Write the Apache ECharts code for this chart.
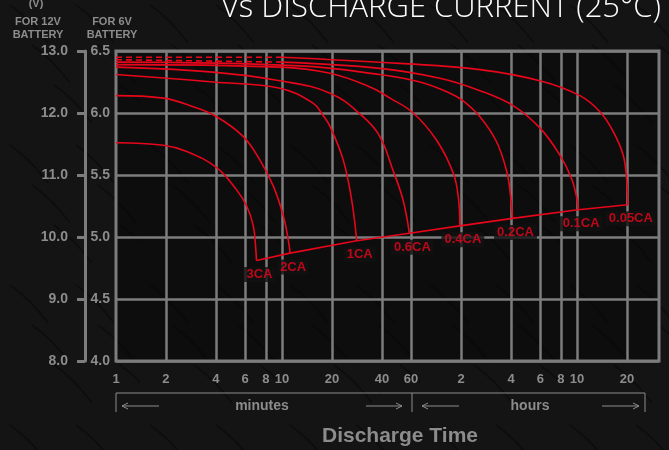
<!DOCTYPE html>
<html>
<head>
<meta charset="utf-8">
<script src="https://cdn.jsdelivr.net/npm/echarts@6/dist/echarts.min.js"></script>
<style>
html,body{margin:0;padding:0;background:#151515}
#main{width:669px;height:450px}
</style>
</head>
<body>
<div id="main"></div>
<script>
// x轴刻度（分钟），60以后按小时显示
var xTicks = [1, 2, 4, 6, 8, 10, 20, 40, 60, 120, 240, 360, 480, 600, 1200]
var xTickText = ['1', '2', '4', '6', '8', '10', '20', '40', '60', '2', '4', '6', '8', '10', '20']

// 每条放电曲线：时间(分钟) / 电压(6V电池)
var t3CA = [1, 1.93, 2.67, 4.04, 5.33, 6.13, 6.72, 6.94, 7.02]
var v3CA = [5.76, 5.74, 5.69, 5.56, 5.38, 5.25, 5.09, 4.92, 4.81]

var t2CA = [1, 1.93, 2.92, 4.04, 5.85, 7.37, 8.87, 10.2, 10.9, 11.2]
var v2CA = [6.14, 6.12, 6.05, 5.97, 5.81, 5.62, 5.41, 5.17, 4.98, 4.87]

var t1CA = [1, 2.02, 3.86, 9.72, 15.4, 17.7, 19.5, 23.4, 26.3, 28.2]
var v1CA = [6.31, 6.28, 6.25, 6.20, 6.08, 5.98, 5.89, 5.62, 5.30, 4.97]

var t06CA = [1, 3.84, 9.72, 19.5, 30.8, 38.9, 46.6, 53.6, 58.6]
var v06CA = [6.37, 6.33, 6.26, 6.16, 5.97, 5.81, 5.54, 5.30, 5.03]

var t04CA = [1, 9.72, 19.5, 33.9, 44.8, 61.8, 85.5, 108, 116, 118]
var v04CA = [6.39, 6.37, 6.32, 6.21, 6.12, 6.00, 5.78, 5.51, 5.30, 5.09]

var t02CA = [1, 12.8, 38.9, 67.8, 103, 123, 156, 196, 226, 238, 245]
var v02CA = [6.41, 6.38, 6.31, 6.25, 6.16, 6.10, 5.97, 5.77, 5.53, 5.34, 5.15]

var t01CA = [1, 10, 38.9, 89.5, 156, 247, 358, 473, 556, 601, 609]
var v01CA = [6.43, 6.41, 6.36, 6.28, 6.18, 6.06, 5.88, 5.66, 5.47, 5.30, 5.22]

var t005CA = [1, 10, 51.4, 156, 358, 624, 824, 991, 1138, 1193, 1214]
var v005CA = [6.45, 6.45, 6.40, 6.35, 6.26, 6.14, 6.01, 5.85, 5.66, 5.47, 5.26]

var curveNames = ['3CA', '2CA', '1CA', '0.6CA', '0.4CA', '0.2CA', '0.1CA', '0.05CA']
var curveTimes = [t3CA, t2CA, t1CA, t06CA, t04CA, t02CA, t01CA, t005CA]
var curveVolts = [v3CA, v2CA, v1CA, v06CA, v04CA, v02CA, v01CA, v005CA]

// 这两条在10分钟以前画虚线
var dashedCurves = ['0.1CA', '0.05CA']
var dashedUpTo = 10

var red = '#e8061b'
var gridGray = '#7d7d7d'
var textGray = '#8c8c8c'

function pairs(t, v) {
	return t.map(function (x, i) { return [x, v[i]] })
}

// 背景的斜纹理，淡一点
function makeTexture() {
	var c = document.createElement('canvas')
	c.width = 140
	c.height = 140
	var ctx = c.getContext('2d')
	ctx.fillStyle = '#141414'
	ctx.fillRect(0, 0, 140, 140)
	ctx.strokeStyle = 'rgba(0,0,0,0.3)'
	ctx.lineWidth = 2
	for (var i = 0; i < 6; i++) {
		ctx.beginPath()
		var x0 = 10 + i * 22, y0 = 5 + (i % 3) * 40
		ctx.moveTo(x0, y0)
		ctx.quadraticCurveTo(x0 + 20, y0 + 14, x0 + 38, y0 + 38)
		ctx.stroke()
	}
	return c
}

var series = []

// 竖向网格线，用markLine按对数轴画
series.push({
	type: 'line',
	data: [],
	silent: true,
	markLine: {
		z: 1,
		silent: true,
		symbol: 'none',
		label: { show: false },
		lineStyle: { color: gridGray, width: 2.5, type: 'solid' },
		data: xTicks.slice(1).map(function (v) { return { xAxis: v } })
	}
})

curveNames.forEach(function (name, k) {
	var pts = pairs(curveTimes[k], curveVolts[k])
	var solid = pts
	if (dashedCurves.indexOf(name) >= 0) {
		var dashPts = pts.filter(function (p) { return p[0] <= dashedUpTo })
		solid = pts.filter(function (p) { return p[0] >= dashedUpTo })
		series.push({
			type: 'line', name: name + '-dash', data: dashPts, z: 3,
			showSymbol: false, silent: true,
			lineStyle: { color: red, width: 1.6, type: [6, 4] }
		})
	}
	series.push({
		type: 'line', name: name, data: solid, z: 3,
		smooth: 0.4,
		showSymbol: false, silent: true,
		lineStyle: { color: red, width: 1.6 }
	})
})

// 终止电压线，连接每条曲线的终点
var endPts = curveNames.map(function (n, k) {
	var t = curveTimes[k], v = curveVolts[k]
	return [t[t.length - 1], v[v.length - 1]]
})
series.push({
	type: 'line', name: 'cutoff', data: endPts, z: 3,
	showSymbol: false, silent: true,
	lineStyle: { color: red, width: 1.6 }
})
series.push({
	type: 'scatter', name: 'labels', data: endPts, z: 6,
	symbolSize: 1, itemStyle: { color: 'rgba(0,0,0,0)' }, silent: true,
	label: {
		show: true, position: 'bottom', distance: 6, offset: [3, 0],
		color: red, fontSize: 13, fontWeight: 'bold',
		fontFamily: '"Liberation Sans", Arial, sans-serif',
		backgroundColor: '#111111', padding: [1, 3],
		formatter: function (p) { return curveNames[p.dataIndex] }
	}
})

var small = { fill: textGray, font: 'bold 11px "Liberation Sans", Arial, sans-serif', align: 'center' }

function arrowLine(x1, x2, y, headLeft) {
	var hx = headLeft ? x1 : x2
	var d = headLeft ? 6 : -6
	return [
		{ type: 'line', shape: { x1: x1, y1: y, x2: x2, y2: y }, style: { stroke: textGray, lineWidth: 1 } },
		{ type: 'polyline', shape: { points: [[hx + d, y - 3], [hx, y], [hx + d, y + 3]] }, style: { stroke: textGray, lineWidth: 1, fill: null } }
	]
}

var graphics = [
	{ type: 'text', x: 661, y: 24, style: { text: 'Vs DISCHARGE CURRENT (25°C)', fill: '#ffffff', font: '300 31px "Open Sans", sans-serif', align: 'right', verticalAlign: 'bottom' } },
	{ type: 'text', x: 36, y: 4, style: Object.assign({}, small, { text: '(V)', verticalAlign: 'middle' }) },
	{ type: 'text', x: 38, y: 22, style: Object.assign({}, small, { text: 'FOR 12V', verticalAlign: 'middle' }) },
	{ type: 'text', x: 38, y: 35, style: Object.assign({}, small, { text: 'BATTERY', verticalAlign: 'middle' }) },
	{ type: 'text', x: 112, y: 22, style: Object.assign({}, small, { text: 'FOR 6V', verticalAlign: 'middle' }) },
	{ type: 'text', x: 112, y: 35, style: Object.assign({}, small, { text: 'BATTERY', verticalAlign: 'middle' }) },
	// 下方的 minutes / hours 括号
	{ type: 'polyline', shape: { points: [[116, 412], [116, 393], [645, 393], [645, 412]] }, style: { stroke: textGray, lineWidth: 1, fill: null } },
	{ type: 'line', shape: { x1: 412, y1: 393, x2: 412, y2: 412 }, style: { stroke: textGray, lineWidth: 1 } },
	{ type: 'text', x: 262, y: 406, style: { text: 'minutes', fill: textGray, font: 'bold 14px "Liberation Sans", Arial, sans-serif', align: 'center', verticalAlign: 'middle' } },
	{ type: 'text', x: 530, y: 406, style: { text: 'hours', fill: textGray, font: 'bold 14px "Liberation Sans", Arial, sans-serif', align: 'center', verticalAlign: 'middle' } },
	{ type: 'text', x: 400, y: 436, style: { text: 'Discharge Time', fill: textGray, font: 'bold 21px "Liberation Sans", Arial, sans-serif', align: 'center', verticalAlign: 'middle' } }
]
graphics = graphics.concat(arrowLine(122, 159, 406, true), arrowLine(366, 402, 406, false),
	arrowLine(422, 459, 406, true), arrowLine(602, 639, 406, false))

var option = {
	backgroundColor: { image: makeTexture(), repeat: 'repeat' },
	animation: false,
	grid: {
		left: 116, right: 10, top: 51, bottom: 89,
		show: true, borderColor: gridGray, borderWidth: 3, backgroundColor: 'rgba(8,8,8,0.55)'
	},
	xAxis: {
		type: 'log', logBase: 10, min: 1, max: 1870,
		axisLine: { show: false }, axisTick: { show: false }, splitLine: { show: false },
		axisLabel: {
			customValues: xTicks, margin: 12,
			color: textGray, fontSize: 13, fontWeight: 'bold',
			fontFamily: '"Liberation Sans", Arial, sans-serif',
			formatter: function (v) {
				var i = xTicks.indexOf(Math.round(v))
				return i >= 0 ? xTickText[i] : ''
			}
		}
	},
	yAxis: [
		{
			type: 'value', min: 4, max: 6.5, interval: 0.5, position: 'left',
			axisLine: { show: false }, axisTick: { show: false },
			splitLine: { show: true, lineStyle: { color: gridGray, width: 2.5 } },
			axisLabel: {
				margin: 6, color: textGray, fontSize: 14, fontWeight: 'bold',
				fontFamily: '"Liberation Sans", Arial, sans-serif',
				formatter: function (v) { return v.toFixed(1) }
			}
		},
		{
			type: 'value', min: 8, max: 13, interval: 1, position: 'left', offset: 31,
			axisLine: { show: true, lineStyle: { color: gridGray, width: 3 } },
			axisTick: { show: true, length: 8, lineStyle: { color: gridGray, width: 3 } },
			splitLine: { show: false },
			axisLabel: {
				margin: 17, color: textGray, fontSize: 14, fontWeight: 'bold',
				fontFamily: '"Liberation Sans", Arial, sans-serif',
				formatter: function (v) { return v.toFixed(1) }
			}
		}
	],
	graphic: graphics,
	series: series
}

var myChart = echarts.init(document.getElementById('main'))
myChart.setOption(option)
</script>
</body>
</html>
